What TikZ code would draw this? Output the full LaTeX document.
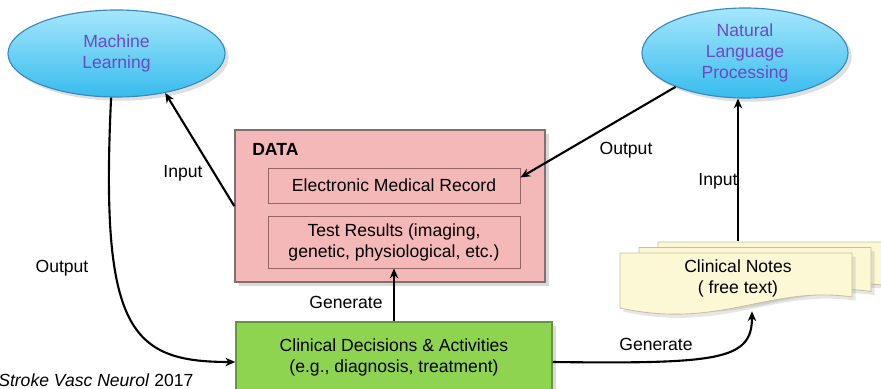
\documentclass[tikz,border=0pt]{standalone}
\usepackage{fontspec}
\setmainfont{Liberation Sans}
\usetikzlibrary{shapes.geometric,arrows.meta,shadows}
\definecolor{ovaltop}{RGB}{165,230,252}
\definecolor{ovalbottom}{RGB}{55,188,238}
\definecolor{ovalline}{RGB}{58,136,190}
\definecolor{ovaltext}{RGB}{110,72,192}
\definecolor{datafill}{RGB}{245,184,184}
\definecolor{dataline}{RGB}{128,112,112}
\definecolor{recordline}{RGB}{150,100,100}
\definecolor{decisionfill}{RGB}{142,212,80}
\definecolor{decisionline}{RGB}{100,150,60}
\definecolor{notesfill}{RGB}{252,247,212}
\definecolor{notesline}{RGB}{200,192,160}
\begin{document}
\begin{tikzpicture}[x=0.025cm, y=-0.025cm,
    font=\fontsize{12.5}{15}\selectfont,
    method/.style={ellipse, inner sep=0pt, draw=ovalline, line width=0.8pt, top color=ovaltop,
      bottom color=ovalbottom, text=ovaltext, align=center, drop shadow={opacity=0.25}},
    databox/.style={draw=dataline, fill=datafill, line width=1pt, drop shadow={opacity=0.3}},
    recordbox/.style={draw=recordline, line width=0.6pt, minimum width=6.3cm, align=center},
    notesheet/.style={draw=notesline, fill=notesfill, line width=0.6pt, drop shadow={opacity=0.2}},
    flow/.style={-{Stealth[length=7pt,width=6pt]}, line width=1.5pt}]
        \useasboundingbox (0,0) rectangle (881,388);

        % draw methods
        \node[method, minimum width=5.425cm, minimum height=2.175cm] (ml) at (116.5,53.5) {Machine\\Learning};
        \node[method, minimum width=5.15cm, minimum height=2.25cm] (nlp) at (745,53) {Natural\\Language\\Processing};

        % draw data box
        \node[databox, minimum width=7.75cm, minimum height=3.8cm] (data) at (390,206) {};
        \node[anchor=west, inner sep=0pt, font=\fontsize{12.5}{15}\selectfont\bfseries] (datalabel) at (252,149) {DATA};
        \node[recordbox, minimum height=0.875cm] (emr) at (394,185.5) {Electronic Medical Record};
        \node[recordbox, minimum height=1.3cm] (test) at (394,242) {Test Results (imaging,\\genetic, physiological, etc.)};

        % draw decisions box
        \node[draw=decisionline, fill=decisionfill, line width=1pt, minimum width=7.9cm, minimum height=1.75cm,
          align=center, drop shadow={opacity=0.3}] (decisions) at (394,357) {Clinical Decisions \& Activities\\(e.g., diagnosis, treatment)};

        % draw stacked notes
        \foreach \s in {2,1,0}
          \draw[notesheet, shift={(19*\s,-5.5*\s)}] (620,253) -- (852,253) -- (852,297)
            .. controls (770,285) and (720,330) .. (620,308) -- cycle;
        \node[align=center, minimum height=1.75cm] (notes) at (738,278) {Clinical Notes\\( free text)};

        % draw connectors
        \draw[flow] (data.west) -- (ml.-39);
        \draw[flow] (ml.-97) .. controls (100,330) and (130,362) .. ([yshift=-0.125cm]decisions.west);
        \draw[flow] (nlp.206) -- ([yshift=0.2cm]emr.east);
        \draw[flow] ([yshift=0.05cm]notes.north) -- (notes.north |- nlp.south);
        \draw[flow] (decisions.north) -- (test.south);
        \draw[flow] ([yshift=-0.125cm]decisions.east) .. controls (720,364) and (752,360) .. ([xshift=0.35cm,yshift=0.05cm]notes.south);

        % draw labels
        \node (inml) at (183,173) {Input};
        \node (outml) at (62,268) {Output};
        \node (outnlp) at (626,150) {Output};
        \node (innlp) at (718,181) {Input};
        \node (gentest) at (346,302) {Generate};
        \node (gennotes) at (656,344) {Generate};
        \node[anchor=base west, inner sep=0pt] (cite) at (-2,386) {\textit{Stroke Vasc Neurol} 2017};
\end{tikzpicture}
\end{document}
